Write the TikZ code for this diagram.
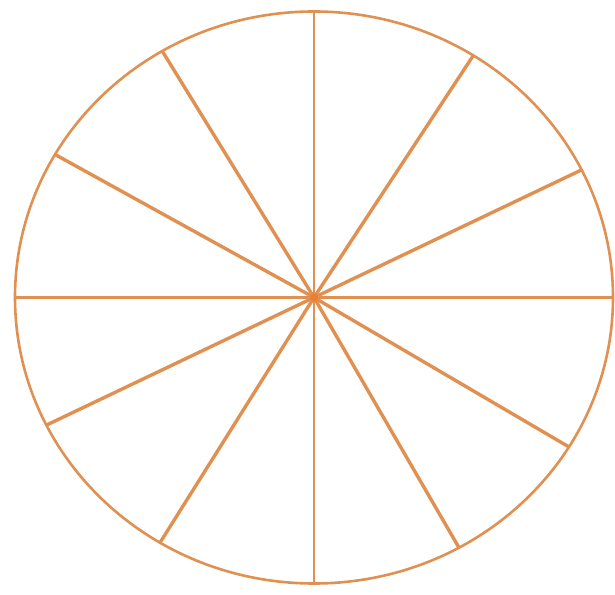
\documentclass[tikz,border=0pt]{standalone}
\usetikzlibrary{calc}
\definecolor{wheelorange}{RGB}{224,144,80}
\definecolor{hubcore}{RGB}{236,128,50}

\begin{document}
\begin{tikzpicture}[
    rim/.style={draw=wheelorange, line width=2.6pt},
    spoke/.style={draw=wheelorange, line width=3.4pt},
    axisspoke/.style={draw=wheelorange, line width=2.4pt},
  ]
    \useasboundingbox (0pt,0pt) rectangle (615pt,594pt);

    % === wheel rim ===
    \coordinate (hub) at (314pt,296.5pt);
    \draw[rim] (hub) ellipse [x radius=299pt, y radius=286pt];

    % --- slanted spokes ---
    \foreach \a [count=\i] in {26.5,57.8,120.5,150,206.5,239,299,328.5} {
      \coordinate (end\i) at ($(hub)+(\a:299pt and 286pt)$);
      \draw[spoke] (hub) -- (end\i);
    }

    % --- vertical and horizontal spokes ---
    \foreach \a [count=\i] in {0,90,180,270} {
      \coordinate (axis\i) at ($(hub)+(\a:299pt and 286pt)$);
      \draw[axisspoke] (hub) -- (axis\i);
    }

    \fill[hubcore] (hub) circle (4pt);
  \end{tikzpicture}
\end{document}
